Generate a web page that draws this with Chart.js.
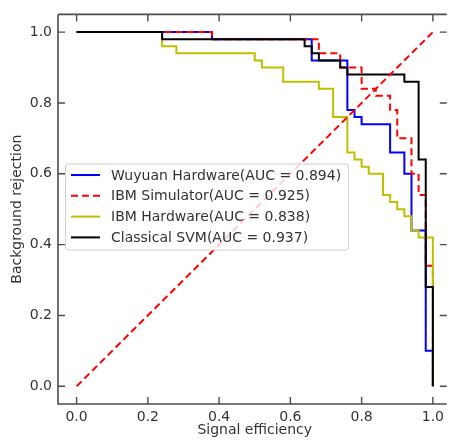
<!DOCTYPE html>
<html>
<head>
<meta charset="utf-8">
<script src="https://cdn.jsdelivr.net/npm/chart.js@4"></script>
<style>
  html, body { margin: 0; padding: 0; background: #fff; overflow: hidden; }
  #box { width: 449px; height: 440px; }
</style>
</head>
<body>
<div id="box"><canvas id="roc" width="449" height="440"></canvas></div>
<script>
// curvas ROC (vertices de cada escalon)
const wuyuanX = [0, 0.38, 0.38, 0.66, 0.66, 0.76, 0.76, 0.78, 0.78, 0.80, 0.80, 0.88, 0.88, 0.92, 0.92, 0.94, 0.94, 0.98, 0.98, 1.0, 1.0];
const wuyuanY = [1.0, 1.0, 0.98, 0.98, 0.92, 0.92, 0.78, 0.78, 0.76, 0.76, 0.74, 0.74, 0.66, 0.66, 0.60, 0.60, 0.44, 0.44, 0.10, 0.10, 0.0];

const simX = [0, 0.38, 0.38, 0.68, 0.68, 0.74, 0.74, 0.80, 0.80, 0.84, 0.84, 0.88, 0.88, 0.90, 0.90, 0.94, 0.94, 0.96, 0.96, 0.98, 0.98, 1.0, 1.0];
const simY = [1.0, 1.0, 0.98, 0.98, 0.94, 0.94, 0.90, 0.90, 0.84, 0.84, 0.82, 0.82, 0.78, 0.78, 0.70, 0.70, 0.60, 0.60, 0.54, 0.54, 0.34, 0.34, 0.0];

const ibmX = [0, 0.24, 0.24, 0.28, 0.28, 0.50, 0.50, 0.52, 0.52, 0.58, 0.58, 0.68, 0.68, 0.72, 0.72, 0.76, 0.76, 0.78, 0.78, 0.80, 0.80, 0.82, 0.82, 0.86, 0.86, 0.88, 0.88, 0.90, 0.90, 0.92, 0.92, 0.94, 0.94, 0.96, 0.96, 1.0, 1.0];
const ibmY = [1.0, 1.0, 0.96, 0.96, 0.94, 0.94, 0.92, 0.92, 0.90, 0.90, 0.86, 0.86, 0.84, 0.84, 0.76, 0.76, 0.66, 0.66, 0.64, 0.64, 0.62, 0.62, 0.60, 0.60, 0.54, 0.54, 0.52, 0.52, 0.50, 0.50, 0.48, 0.48, 0.44, 0.44, 0.42, 0.42, 0.0];

const svmX = [0, 0.24, 0.24, 0.64, 0.64, 0.66, 0.66, 0.68, 0.68, 0.74, 0.74, 0.76, 0.76, 0.92, 0.92, 0.96, 0.96, 0.98, 0.98, 1.0, 1.0];
const svmY = [1.0, 1.0, 0.98, 0.98, 0.96, 0.96, 0.94, 0.94, 0.92, 0.92, 0.90, 0.90, 0.88, 0.88, 0.86, 0.86, 0.64, 0.64, 0.28, 0.28, 0.0];

const diagX = [0, 1];
const diagY = [0, 1];

const seriesLabels = [
    'Wuyuan Hardware(AUC = 0.894)',
    'IBM Simulator(AUC = 0.925)',
    'IBM Hardware(AUC = 0.838)',
    'Classical SVM(AUC = 0.937)'
];
const seriesColors = ['#0000ff', '#ff0000', '#bfbf00', '#000000'];

const xTicks = [0, 0.2, 0.4, 0.6, 0.8, 1.0];
const yTicks = [0, 0.2, 0.4, 0.6, 0.8, 1.0];

const xTitle = 'Signal efficiency';
const yTitle = 'Background rejection';

function toPoints(xs, ys) {
    return xs.map((x, i) => ({ x: x, y: ys[i] }));
}

const FONT = '"DejaVu Sans", sans-serif';
const TEXT = '#333333';
const AXIS = '#4d4d4d';

// caja, marcas hacia adentro, titulos y leyenda
const framePlugin = {
    id: 'frame',
    afterDraw(chart) {
        const ctx = chart.ctx;
        const a = chart.chartArea;
        const xs = chart.scales.x;
        const ys = chart.scales.y;
        ctx.save();
        ctx.strokeStyle = AXIS;
        ctx.lineWidth = 1.6;
        ctx.beginPath();
        ctx.moveTo(a.left, a.top);
        ctx.lineTo(a.left, a.bottom);
        ctx.lineTo(a.right, a.bottom);
        ctx.moveTo(a.left, a.top);
        ctx.lineTo(a.right, a.top);
        ctx.stroke();

        ctx.lineWidth = 1.4;
        ctx.beginPath();
        xTicks.forEach(v => {
            const px = xs.getPixelForValue(v);
            ctx.moveTo(px, a.bottom);
            ctx.lineTo(px, a.bottom - 7);
            ctx.moveTo(px, a.top);
            ctx.lineTo(px, a.top + 7);
        });
        yTicks.forEach(v => {
            const py = ys.getPixelForValue(v);
            ctx.moveTo(a.left, py);
            ctx.lineTo(a.left + 7, py);
            ctx.moveTo(a.right, py);
            ctx.lineTo(a.right - 7, py);
        });
        ctx.stroke();

        // titulos de ejes
        ctx.fillStyle = TEXT;
        ctx.font = '14px ' + FONT;
        ctx.textAlign = 'center';
        ctx.textBaseline = 'alphabetic';
        ctx.fillText(xTitle, (xs.getPixelForValue(0) + xs.getPixelForValue(1)) / 2, 434);
        ctx.save();
        ctx.translate(21, (ys.getPixelForValue(0) + ys.getPixelForValue(1)) / 2);
        ctx.rotate(-Math.PI / 2);
        ctx.fillText(yTitle, 0, 0);
        ctx.restore();

        // leyenda
        const lx = 65.5, ly = 164, lw = 283, lh = 86;
        ctx.fillStyle = 'rgba(255,255,255,0.8)';
        ctx.strokeStyle = '#d0d0d0';
        ctx.lineWidth = 1;
        ctx.beginPath();
        ctx.roundRect(lx, ly, lw, lh, 3);
        ctx.fill();
        ctx.stroke();

        ctx.textAlign = 'left';
        ctx.textBaseline = 'middle';
        seriesLabels.forEach((label, i) => {
            const cy = 175 + i * 20.8;
            ctx.strokeStyle = seriesColors[i];
            ctx.lineWidth = 2;
            ctx.setLineDash(i === 1 ? [7, 4] : []);
            ctx.beginPath();
            ctx.moveTo(71, cy);
            ctx.lineTo(100, cy);
            ctx.stroke();
            ctx.setLineDash([]);
            ctx.fillStyle = TEXT;
            ctx.fillText(label, 111, cy + 1);
        });
        ctx.restore();
    }
};

const ctx = document.getElementById('roc').getContext('2d');
const rocChart = new Chart(ctx, {
    type: 'line',
    data: {
        datasets: [
            {
                label: seriesLabels[0],
                data: toPoints(wuyuanX, wuyuanY),
                borderColor: seriesColors[0],
                order: 5
            },
            {
                label: seriesLabels[1],
                data: toPoints(simX, simY),
                borderColor: seriesColors[1],
                borderDash: [7, 4],
                order: 4
            },
            {
                label: seriesLabels[2],
                data: toPoints(ibmX, ibmY),
                borderColor: seriesColors[2],
                order: 3
            },
            {
                label: seriesLabels[3],
                data: toPoints(svmX, svmY),
                borderColor: seriesColors[3],
                order: 2
            },
            {
                label: 'diagonal',
                data: toPoints(diagX, diagY),
                borderColor: '#ff0000',
                borderDash: [7, 4],
                order: 1
            }
        ]
    },
    options: {
        responsive: false,
        animation: false,
        devicePixelRatio: 1,
        layout: { padding: { top: 11.5, right: 0, bottom: 0, left: 0 } },
        elements: {
            point: { radius: 0 },
            line: { borderWidth: 2, tension: 0, fill: false }
        },
        plugins: {
            legend: { display: false },
            tooltip: { enabled: false }
        },
        scales: {
            x: {
                type: 'linear',
                min: -0.0522,
                max: 1.039,
                grid: { display: false, drawTicks: false },
                border: { display: false },
                afterBuildTicks: scale => { scale.ticks = xTicks.map(v => ({ value: v })); },
                afterFit: scale => { scale.height = 36; },
                ticks: {
                    padding: 5,
                    color: TEXT,
                    font: { family: FONT, size: 14 },
                    maxRotation: 0,
                    callback: v => v.toFixed(1)
                }
            },
            y: {
                type: 'linear',
                min: -0.05,
                max: 1.05,
                grid: { display: false, drawTicks: false },
                border: { display: false },
                afterBuildTicks: scale => { scale.ticks = yTicks.map(v => ({ value: v })); },
                afterFit: scale => { scale.width = 58; },
                ticks: {
                    padding: 6,
                    color: TEXT,
                    font: { family: FONT, size: 14 },
                    callback: v => v.toFixed(1)
                }
            }
        }
    },
    plugins: [framePlugin]
});
</script>
</body>
</html>
